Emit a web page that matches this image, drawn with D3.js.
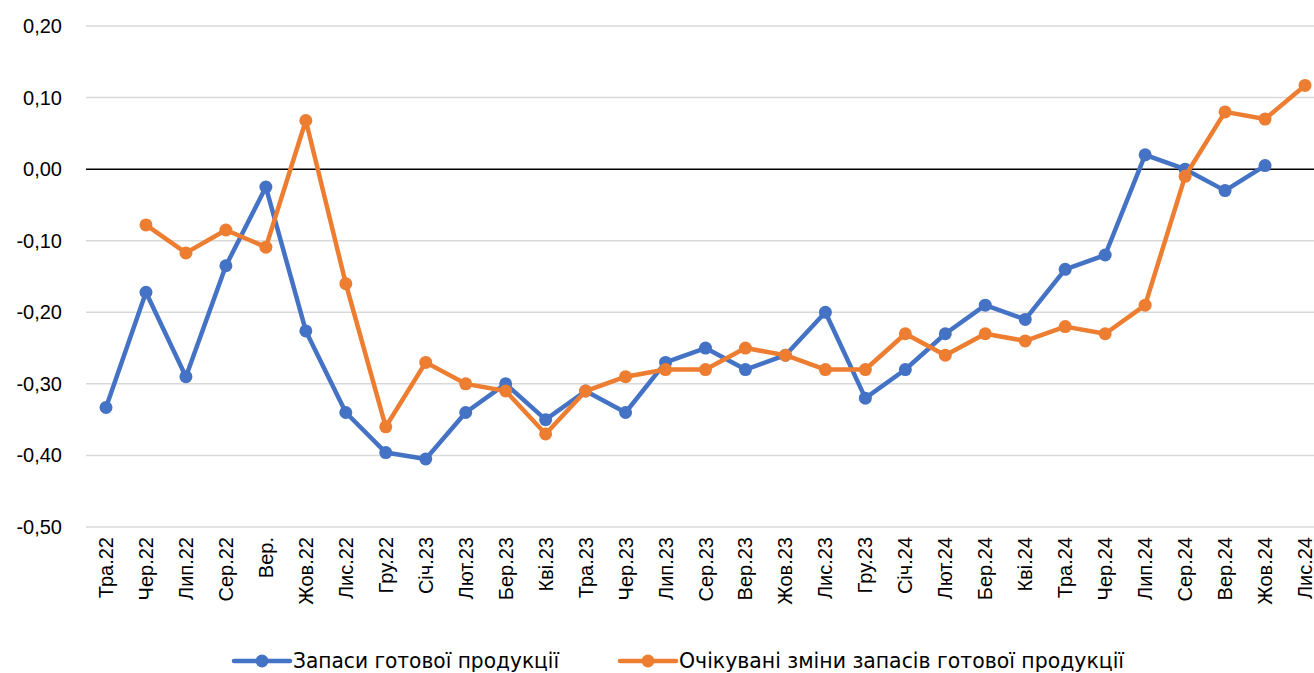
<!DOCTYPE html>
<html>
<head>
<meta charset="utf-8">
<script src="https://cdn.jsdelivr.net/npm/d3@7"></script>
<style>
  body { margin: 0; background: #fff; }
  svg { display: block; font-family: "Liberation Sans", Arial, sans-serif; }
</style>
</head>
<body>
<div id="viz"></div>
<script>
const width = 1314,
    height = 673;

const months = ["Тра.22", "Чер.22", "Лип.22", "Сер.22", "Вер.", "Жов.22", "Лис.22", "Гру.22",
    "Січ.23", "Лют.23", "Бер.23", "Кві.23", "Тра.23", "Чер.23", "Лип.23", "Сер.23", "Вер.23",
    "Жов.23", "Лис.23", "Гру.23", "Січ.24", "Лют.24", "Бер.24", "Кві.24", "Тра.24", "Чер.24",
    "Лип.24", "Сер.24", "Вер.24", "Жов.24", "Лис.24"];

// Запаси готової продукції
const stocks = [-0.333, -0.172, -0.29, -0.135, -0.025, -0.226, -0.34, -0.396,
    -0.405, -0.34, -0.30, -0.35, -0.31, -0.34, -0.27, -0.25, -0.28,
    -0.26, -0.20, -0.32, -0.28, -0.23, -0.19, -0.21, -0.14, -0.12,
    0.02, 0.00, -0.03, 0.005, null];

// Очікувані зміни запасів готової продукції
const expected = [null, -0.078, -0.117, -0.085, -0.109, 0.068, -0.16, -0.36,
    -0.27, -0.30, -0.31, -0.37, -0.31, -0.29, -0.28, -0.28, -0.25,
    -0.26, -0.28, -0.28, -0.23, -0.26, -0.23, -0.24, -0.22, -0.23,
    -0.19, -0.01, 0.08, 0.07, 0.117];

const yTicks = [0.2, 0.1, 0, -0.1, -0.2, -0.3, -0.4, -0.5];

const seriesNames = ["Запаси готової продукції", "Очікувані зміни запасів готової продукції"];
const colors = ["#4472C4", "#ED7D31"];

const svg = d3.select("#viz").append("svg")
    .attr("width", width)
    .attr("height", height);

const x = d3.scalePoint()
    .domain(months)
    .range([106, 1305]);

const y = d3.scaleLinear()
    .domain([-0.5, 0.2])
    .range([527, 26]);

const fmt = d => d3.format(".2f")(d).replace(".", ",").replace("−", "-");

// gridlines
svg.append("g")
    .selectAll("line")
    .data(yTicks)
    .enter().append("line")
    .attr("x1", 86)
    .attr("x2", width)
    .attr("y1", d => y(d))
    .attr("y2", d => y(d))
    .attr("stroke", d => d === 0 ? "#000" : "#d9d9d9")
    .attr("stroke-width", 1.5);

// y labels
svg.append("g")
    .selectAll("text")
    .data(yTicks)
    .enter().append("text")
    .attr("x", 62)
    .attr("y", d => y(d))
    .attr("dy", "0.35em")
    .attr("text-anchor", "end")
    .attr("font-size", 20)
    .attr("fill", "#000")
    .text(fmt);

// x labels
svg.append("g")
    .selectAll("text")
    .data(months)
    .enter().append("text")
    .attr("transform", d => "translate(" + (x(d) + 7) + ",537) rotate(-90)")
    .attr("text-anchor", "end")
    .attr("font-size", 20)
    .attr("fill", "#000")
    .text(d => d);

const line = d3.line()
    .defined(d => d != null)
    .x((d, i) => x(months[i]))
    .y(d => y(d));

[stocks, expected].forEach((vals, k) => {
    svg.append("path")
        .datum(vals)
        .attr("fill", "none")
        .attr("stroke", colors[k])
        .attr("stroke-width", 4.5)
        .attr("stroke-linejoin", "round")
        .attr("d", line);

    svg.append("g")
        .selectAll("circle")
        .data(vals.map((v, i) => ({ v: v, m: months[i] })).filter(d => d.v != null))
        .enter().append("circle")
        .attr("cx", d => x(d.m))
        .attr("cy", d => y(d.v))
        .attr("r", 6.5)
        .attr("fill", colors[k]);
});

// legend
const legendX = [234, 620];
const legendW = [266, 445];
seriesNames.forEach((name, k) => {
    const g = svg.append("g").attr("transform", "translate(" + legendX[k] + ",661)");
    g.append("line")
        .attr("x1", 0).attr("x2", 56)
        .attr("stroke", colors[k])
        .attr("stroke-width", 4.5)
        .attr("stroke-linecap", "round");
    g.append("circle")
        .attr("cx", 28)
        .attr("r", 6.5)
        .attr("fill", colors[k]);
    g.append("text")
        .attr("x", 59)
        .attr("dy", "0.35em")
        .attr("font-family", "'Liberation Sans Narrow', 'DejaVu Sans Condensed', sans-serif")
        .attr("font-size", 21)
        .attr("textLength", legendW[k])
        .attr("lengthAdjust", "spacingAndGlyphs")
        .attr("fill", "#000")
        .text(name);
});
</script>
</body>
</html>
